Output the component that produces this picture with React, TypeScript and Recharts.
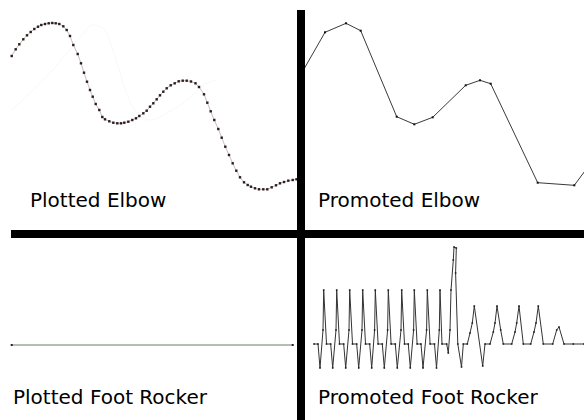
import { Line, LineChart, XAxis, YAxis } from 'recharts'

// Plotted elbow: densely sampled trace (time, angle)
const plottedElbowT = [
  11.7, 15.7, 19.3, 23.3, 27, 30.7, 34.3, 38, 41.3, 45, 48.7, 52.3, 55.7, 59.3, 63.3, 66.7, 70, 73.3,
  77.7, 81, 84, 87, 90, 92.7, 95.7, 99.3, 102.3, 105, 109.3, 113.3, 117.3, 121, 124.3, 128.3, 132.3,
  136, 139.3, 143.3, 146.7, 150, 153.3, 156.7, 160, 163.3, 166.7, 170.7, 174.7, 178.7, 182.7, 186.7,
  191, 195.5, 199, 204, 207.3, 210.7, 214.3, 218.3, 221.7, 225.3, 229, 232.7, 236.3, 240, 244, 247.7,
  251, 255, 259, 263.3, 267.3, 271.7, 276, 280, 284, 288.3, 292.7, 296.5,
]
const plottedElbowV = [
  144, 150.7, 155.7, 160.7, 164.7, 168, 171, 173.3, 175, 176, 176.7, 177, 176.7, 176, 173.7, 170, 164,
  155, 146, 136.7, 127.3, 118.3, 110, 103.3, 96, 90, 83, 80.7, 78.7, 77.3, 76.7, 76.7, 77.3, 78.3, 80,
  81.7, 84, 86.7, 89.3, 93.3, 96.7, 100.7, 104.7, 108.3, 111.7, 114.7, 116.7, 118.7, 119.3, 119.3,
  118.5, 116.7, 113, 105.7, 97.3, 88.7, 80, 71, 62.3, 53.3, 45, 36.7, 29.3, 22.7, 17.7, 15, 13.3, 11.7,
  10.7, 10.7, 10.7, 12.7, 14.7, 16.7, 18, 19.3, 20, 20.7,
]
// faint background trace in the plotted elbow panel
const ghostElbowT = [12, 33, 50, 67, 80, 93, 103, 113, 123, 133, 150, 167, 187, 207, 217]
const ghostElbowV = [90, 110, 127, 147, 163, 175, 172, 150, 117, 93, 80, 87, 100, 117, 120]

// Promoted elbow: key frames only
const promotedElbowT = [300, 325, 346, 360.7, 396.7, 414.3, 432.7, 465.7, 480, 490.7, 537.7, 574.3, 596]
const promotedElbowV = [124, 167.7, 176.7, 169.3, 83.3, 75.7, 82.7, 114.7, 119.7, 116.3, 17.3, 14.7, 44]

// Plotted foot rocker: flat
const plottedRockerT = [11.7, 292.7]
const plottedRockerV = [0, 0]

// Promoted foot rocker
const promotedRockerT = [
  314,
  318, 320, 323, 323.7, 326.5,
  330.7, 332.7, 336, 336.7, 339.5,
  343.7, 345.7, 349, 349.7, 352.5,
  356.7, 358.7, 362, 362.7, 365.5,
  369.7, 371.7, 374.6, 375.3, 378.1,
  382.3, 384.3, 387.6, 388.3, 391.1,
  395.3, 397.3, 401, 401.7, 404.5,
  408.3, 410.3, 413.6, 414.3, 417.1,
  421, 423, 426.6, 427.3, 430.1,
  434.5, 436.5, 439.3, 440, 442,
  446.7, 448.3, 450, 451, 453.3, 454, 456.3, 455.6, 457.8, 461.5, 463.3,
  467.3, 470, 472.3, 474.3, 482.7, 485,
  490, 493.3, 495, 497, 500.7, 503.3,
  511.7, 515, 516.7, 519, 523.3,
  530.7, 534, 536, 538.3, 543.3,
  552.7, 556.7, 559, 564,
  573.3, 584, 590,
]
const promotedRockerV = [
  0,
  0, -24, 14, 54, 0,
  0, -24, 14, 54, 0,
  0, -24, 14, 54, 0,
  0, -24, 14, 54, 0,
  0, -24, 14, 54, 0,
  0, -24, 14, 54, 0,
  0, -24, 14, 54, 0,
  0, -24, 14, 54, 0,
  0, -24, 14, 54, 0,
  0, -24, 14, 54, 0,
  0, -9, 14, 54, 84, 97, 96, 71, 0, -23, 0,
  0, 11, 21, 38, -22, 0,
  0, 12, 21, 38, 14, 0,
  0, 12, 21, 38, 0,
  0, 12, 21, 38, 0,
  0, 14, 17, 0,
  0, 0, 0,
]

const labels = ['Plotted Elbow', 'Promoted Elbow', 'Plotted Foot Rocker', 'Promoted Foot Rocker']

const toRows = (t: number[], v: number[]) => t.map((x, i) => ({ t: x, v: v[i] }))

const squareDot = (size: number, color: string) => (props: any) => {
  const { cx, cy, index } = props
  if (cx == null || cy == null) return <g key={`n-${index}`} />
  return <rect key={`d-${index}`} x={cx - size / 2} y={cy - size / 2} width={size} height={size} fill={color} />
}

interface PanelProps {
  left: number
  top: number
  width: number
  height: number
  xDomain: [number, number]
  yDomain: [number, number]
  children: React.ReactNode
}

function Panel({ left, top, width, height, xDomain, yDomain, children }: PanelProps) {
  return (
    <div style={{ position: 'absolute', left, top, width, height }}>
      <LineChart width={width} height={height} margin={{ top: 0, right: 0, bottom: 0, left: 0 }}>
        <XAxis type="number" dataKey="t" domain={xDomain} allowDataOverflow hide />
        <YAxis type="number" dataKey="v" domain={yDomain} allowDataOverflow hide />
        {children}
      </LineChart>
    </div>
  )
}

export default function App() {
  const font = { fontFamily: '"DejaVu Sans", Verdana, sans-serif', fontSize: 20, fill: '#000' }
  return (
    <div style={{ position: 'absolute', left: 0, top: 0, width: 584, height: 420, background: '#fff', overflow: 'hidden' }}>
      <Panel left={0} top={0} width={297} height={230} xDomain={[0, 297]} yDomain={[-30, 200]}>
        <Line
          data={toRows(ghostElbowT, ghostElbowV)}
          dataKey="v"
          type="monotone"
          stroke="#f5f5f5"
          strokeWidth={1}
          strokeDasharray="2 1"
          dot={false}
          isAnimationActive={false}
        />
        <Line
          data={toRows(plottedElbowT, plottedElbowV)}
          dataKey="v"
          type="linear"
          stroke="#c9bcbc"
          strokeWidth={1}
          dot={squareDot(2.4, '#2b1d1d')}
          isAnimationActive={false}
        />
      </Panel>
      <Panel left={297} top={0} width={287} height={230} xDomain={[297, 584]} yDomain={[-30, 200]}>
        <Line
          data={toRows(promotedElbowT, promotedElbowV)}
          dataKey="v"
          type="linear"
          stroke="#3a3a3a"
          strokeWidth={1}
          dot={squareDot(2, '#111')}
          isAnimationActive={false}
        />
      </Panel>
      <Panel left={0} top={238} width={297} height={182} xDomain={[0, 297]} yDomain={[-75, 107]}>
        <Line
          data={toRows(plottedRockerT, plottedRockerV)}
          dataKey="v"
          type="linear"
          stroke="#9ca895"
          strokeWidth={1.6}
          dot={squareDot(2, '#222')}
          isAnimationActive={false}
        />
      </Panel>
      <Panel left={297} top={238} width={287} height={182} xDomain={[297, 584]} yDomain={[-76, 106]}>
        <Line
          data={toRows(promotedRockerT, promotedRockerV)}
          dataKey="v"
          type="linear"
          stroke="#333"
          strokeWidth={1}
          dot={squareDot(1.6, '#222')}
          isAnimationActive={false}
        />
      </Panel>
      <svg width={584} height={420} style={{ position: 'absolute', left: 0, top: 0 }}>
        <rect x={297} y={10} width={8} height={410} fill="#000" />
        <rect x={11} y={230} width={573} height={8} fill="#000" />
        <text x={30} y={207} style={font}>{labels[0]}</text>
        <text x={318} y={207} style={font}>{labels[1]}</text>
        <text x={13} y={404} style={font}>{labels[2]}</text>
        <text x={318} y={404} style={font}>{labels[3]}</text>
      </svg>
    </div>
  )
}
